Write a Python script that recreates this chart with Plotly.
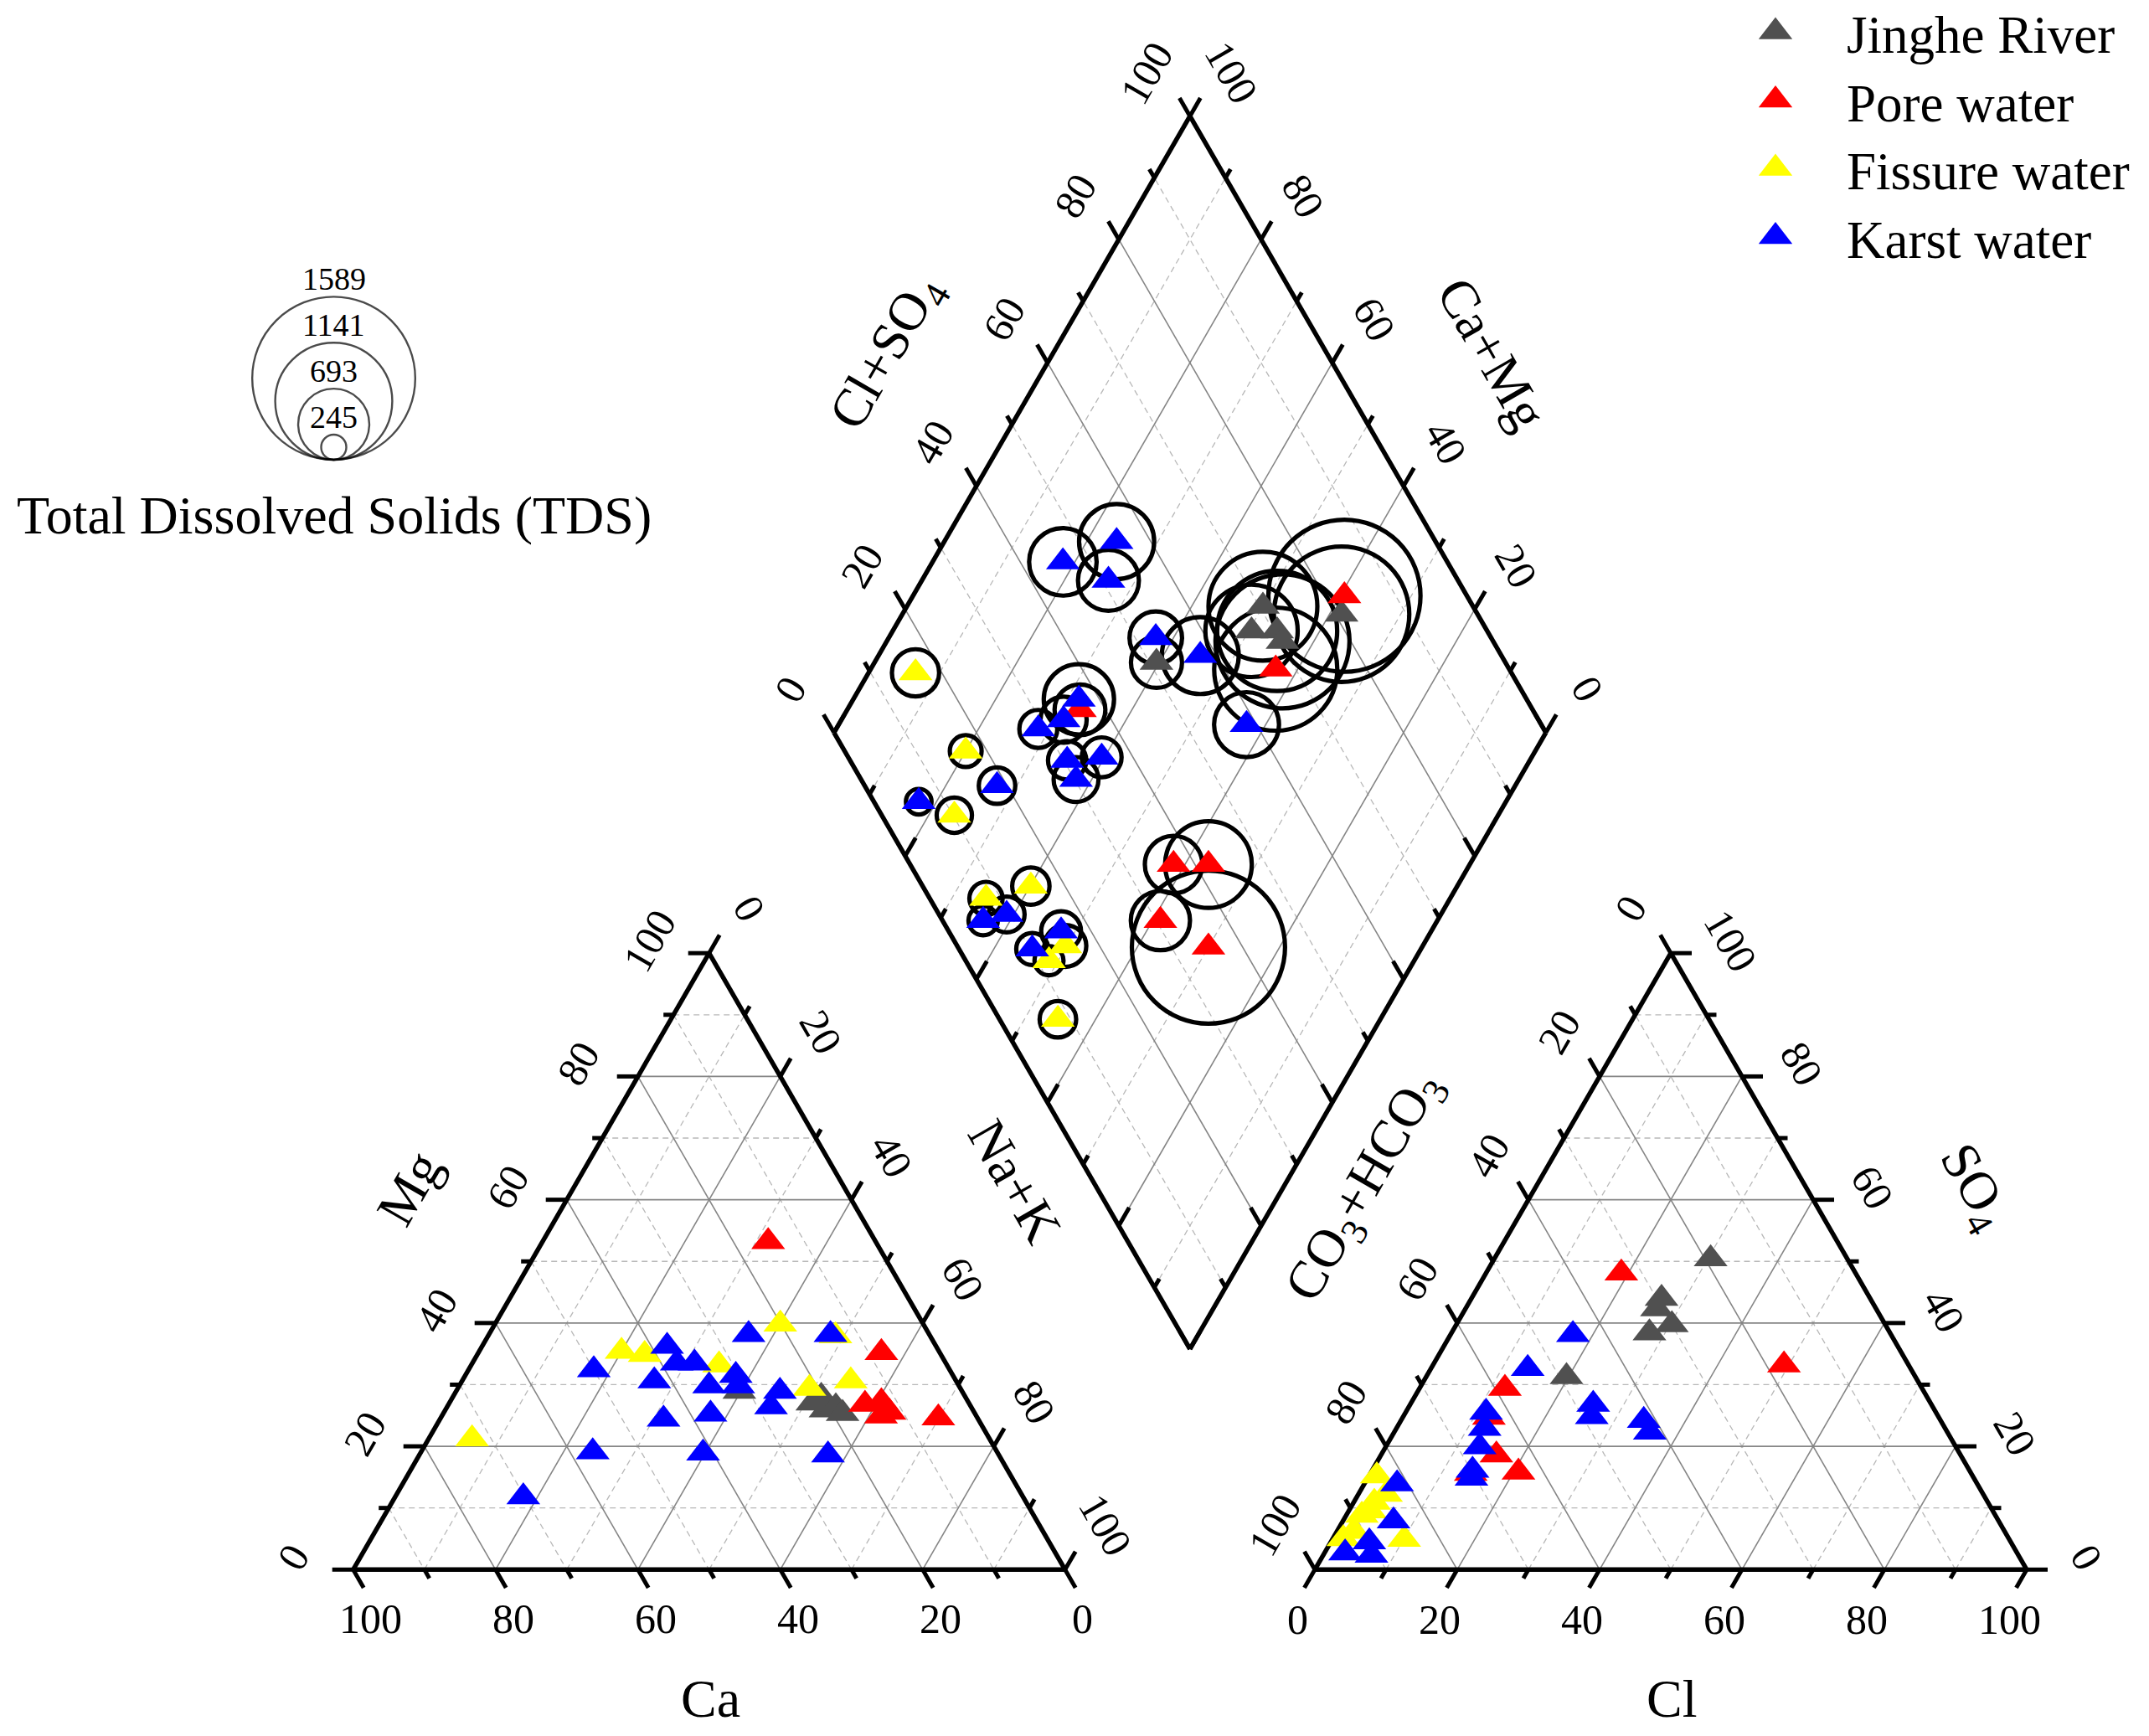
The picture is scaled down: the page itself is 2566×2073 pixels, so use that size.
import numpy as np
import plotly.graph_objects as go

# ---------------- data (meq %) ----------------
groups = ["Jinghe River", "Pore water", "Fissure water", "Karst water"]
group_colors = ["#505050", "#ff0000", "#ffff00", "#0000ff"]

# Cation triangle: Ca and Mg (Na+K = 100 - Ca - Mg)
jinghe_ca = [31.3, 20.2, 20.7, 19.0, 22.0, 18.6]
jinghe_mg = [28.9, 28.1, 25.9, 26.4, 27.0, 25.3]
pore_ca = [15.1, 8.2, 14.7, 12.2, 11.9, 13.4, 5.5]
pore_mg = [53.2, 35.2, 26.8, 27.2, 25.5, 24.9, 24.6]
fissure_ca = [72.7, 44.6, 41.6, 32.0, 20.1, 13.3, 21.2, 14.8]
fissure_mg = [21.2, 35.4, 34.9, 33.2, 39.8, 37.9, 29.4, 30.6]
karst_ca = [50.0, 37.8, 37.8, 35.3, 42.4, 35.1, 30.5, 31.0, 25.4, 25.6, 28.1,
            44.2, 37.2, 13.9, 56.8, 41.4, 24.0, 70.2]
karst_mg = [32.4, 36.2, 33.5, 33.5, 30.6, 29.8, 31.5, 29.8, 38.1, 28.9, 26.4,
            24.4, 25.2, 38.1, 19.1, 18.9, 18.6, 11.8]

# Anion triangle: Cl and SO4 (CO3+HCO3 = 100 - Cl - SO4)
jinghe_cl = [30.4, 26.7, 26.9, 30.3, 27.8, 19.7]
jinghe_so4 = [50.4, 44.0, 42.3, 39.7, 38.4, 31.3]
pore_cl = [19.0, 49.3, 12.0, 12.1, 16.2, 20.7, 14.1]
pore_so4 = [48.1, 33.2, 29.4, 24.7, 18.6, 15.8, 15.6]
fissure_cl = [1.1, 3.9, 2.9, 2.2, 2.4, 10.1, 3.0, 1.5]
fissure_so4 = [15.2, 12.2, 10.9, 8.8, 6.2, 4.9, 9.5, 5.0]
karst_cl = [17.2, 13.6, 25.7, 26.5, 34.1, 35.9, 11.3, 12.4, 13.2, 14.1, 14.6,
            4.6, 7.1, 2.9, 5.4, 6.8]
karst_so4 = [38.1, 32.6, 26.8, 24.8, 24.2, 22.3, 25.5, 22.9, 19.9, 16.1, 14.8,
             13.9, 7.9, 2.7, 4.5, 2.3]

# Diamond: Ca+Mg, Cl+SO4 and TDS (mg/L)
jinghe_camg = [60.4, 50.0, 49.6, 46.0, 44.4, 38.3]
jinghe_clso4 = [51.0, 70.5, 66.9, 70.5, 70.4, 80.9]
jinghe_tds = [498, 1061, 900, 1170, 1306, 1320]
pore_camg = [39.4, 43.1, 67.3, 41.6, 36.7, 38.9, 30.0]
pore_clso4 = [82.8, 67.2, 36.4, 37.0, 41.9, 30.6, 35.2]
pore_tds = [1483, 1200, 495, 560, 845, 577, 1493]
fissure_camg = [93.4, 80.0, 76.4, 59.9, 65.2, 50.2, 51.3, 45.3]
fissure_clso4 = [16.3, 17.0, 10.2, 15.2, 7.9, 15.2, 11.7, 8.2]
fissure_tds = [460, 310, 344, 364, 324, 408, 283, 356]
karst_camg = [81.7, 75.8, 73.8, 62.5, 54.8, 42.7, 68.3, 68.8, 71.6, 65.0, 60.4,
              62.2, 72.8, 82.5, 61.0, 63.8, 52.0, 54.6]
karst_clso4 = [46.0, 55.2, 50.9, 52.9, 57.7, 58.6, 37.1, 33.3, 29.0, 30.5, 35.6,
               30.2, 18.6, 6.3, 9.5, 5.7, 15.8, 10.3]
karst_tds = [658, 732, 594, 512, 750, 633, 685, 450, 370, 373, 388, 437, 356,
             250, 350, 286, 388, 312]

tds_legend_values = [1589, 1141, 693, 245]
tick_values = list(range(0, 101, 10))
label_values = list(range(0, 101, 20))

cat_data = [(jinghe_ca, jinghe_mg), (pore_ca, pore_mg), (fissure_ca, fissure_mg), (karst_ca, karst_mg)]
an_data = [(jinghe_cl, jinghe_so4), (pore_cl, pore_so4), (fissure_cl, fissure_so4), (karst_cl, karst_so4)]
dia_data = [(jinghe_camg, jinghe_clso4, jinghe_tds), (pore_camg, pore_clso4, pore_tds),
            (fissure_camg, fissure_clso4, fissure_tds), (karst_camg, karst_clso4, karst_tds)]

# ---------------- geometry (page pixel frame) ----------------
W, HGT = 2566, 2073
S = 850.0                     # side of triangles / diamond
H = S * np.sqrt(3) / 2
XL, Y0 = 421.7, 1874.3        # left triangle: Ca=100 corner
XR = 2420.0 - S               # right triangle: CO3+HCO3=100 corner
GAP = XR - (XL + S)
BX = XL + S + GAP / 2         # diamond bottom vertex
BY = Y0 - GAP * np.sqrt(3) / 2 - 5
S3 = np.sqrt(3) / 2


def cat_xy(ca, mg):
    ca = np.asarray(ca, float); mg = np.asarray(mg, float)
    nak = 100 - ca - mg
    return XL + (nak + mg / 2) / 100 * S, Y0 - mg / 100 * H


def an_xy(cl, so4):
    cl = np.asarray(cl, float); so4 = np.asarray(so4, float)
    return XR + (cl + so4 / 2) / 100 * S, Y0 - so4 / 100 * H


def dia_xy(camg, clso4):
    c = np.asarray(camg, float) / 100; a = np.asarray(clso4, float) / 100
    return BX + (a - c) * S / 2, BY - (a + c) * H


FONT = "Liberation Serif, Times New Roman, serif"
TICK_FS = 50
TITLE_FS = 64
MSIZE = 35
TDS_K = 0.1225               # circle diameter (px) per mg/L
FRAME_W = 5.5

fig = go.Figure()


def add_segments(segs, color, width, dash=None):
    xs, ys = [], []
    for (x1, y1), (x2, y2) in segs:
        xs += [float(x1), float(x2), None]
        ys += [float(y1), float(y2), None]
    fig.add_trace(go.Scatter(x=xs, y=ys, mode="lines", hoverinfo="skip", showlegend=False,
                             line=dict(color=color, width=width, dash=dash)))


# ---------------- grids ----------------
major_segs, minor_segs = [], []
for v in tick_values[1:-1]:
    target = major_segs if v % 20 == 0 else minor_segs
    # cation triangle
    target.append((cat_xy(100 - v, v), cat_xy(0, v)))
    target.append((cat_xy(v, 100 - v), cat_xy(v, 0)))
    target.append((cat_xy(100 - v, 0), cat_xy(0, 100 - v)))
    # anion triangle
    target.append((an_xy(0, v), an_xy(100 - v, v)))
    target.append((an_xy(v, 0), an_xy(v, 100 - v)))
    target.append((an_xy(100 - v, 0), an_xy(0, 100 - v)))
    # diamond
    target.append((dia_xy(v, 0), dia_xy(v, 100)))
    target.append((dia_xy(0, v), dia_xy(100, v)))
add_segments(minor_segs, "#b8b8b8", 1.3, dash="7px,5px")
add_segments(major_segs, "#858585", 1.6)

# ---------------- frames ----------------
frame = [
    (cat_xy(100, 0), cat_xy(0, 0)), (cat_xy(0, 0), cat_xy(0, 100)), (cat_xy(0, 100), cat_xy(100, 0)),
    (an_xy(0, 0), an_xy(100, 0)), (an_xy(100, 0), an_xy(0, 100)), (an_xy(0, 100), an_xy(0, 0)),
    (dia_xy(0, 0), dia_xy(100, 0)), (dia_xy(100, 0), dia_xy(100, 100)),
    (dia_xy(100, 100), dia_xy(0, 100)), (dia_xy(0, 100), dia_xy(0, 0)),
]
add_segments(frame, "black", FRAME_W)

# ---------------- axes: ticks and labels ----------------
axes = [
    # point function, tick direction, label offset, label angle, labelled?
    (lambda v: cat_xy(v, 0), (0.5, S3), (21, 59), 0, True),            # Ca
    (lambda v: cat_xy(100 - v, v), (-1, 0), (-71, -15), -60, True),      # Mg
    (lambda v: cat_xy(0, 100 - v), (0.5, -S3), (48, -53), 60, True),     # Na+K
    (lambda v: an_xy(v, 0), (-0.5, S3), (-21, 60), 0, True),             # Cl
    (lambda v: an_xy(100 - v, v), (1, 0), (71, -15), 60, True),          # SO4
    (lambda v: an_xy(0, 100 - v), (-0.5, -S3), (-48, -53), -60, True),   # CO3+HCO3
    (lambda v: dia_xy(100, v), (-0.5, -S3), (-52, -52), -60, True),      # Cl+SO4
    (lambda v: dia_xy(v, 100), (0.5, -S3), (50, -52), 60, True),         # Ca+Mg
    (lambda v: dia_xy(v, 0), (0.5, -S3), (0, 0), 0, False),              # diamond lower-left
    (lambda v: dia_xy(0, v), (-0.5, -S3), (0, 0), 0, False),             # diamond lower-right
]
annotations = []
tick_segs = []
for pfun, (dx, dy), (ox, oy), ang, labelled in axes:
    for v in tick_values:
        px, py = pfun(v)
        ln = 25 if v % 20 == 0 else 12
        tick_segs.append(((px, py), (px + dx * ln, py + dy * ln)))
    if labelled:
        for v in label_values:
            px, py = pfun(v)
            annotations.append(dict(x=float(px + ox), y=float(py + oy), text=str(v), textangle=ang,
                                    showarrow=False, xanchor="center", yanchor="middle",
                                    font=dict(family=FONT, size=TICK_FS, color="black")))
add_segments(tick_segs, "black", 5)

# ---------------- axis titles ----------------
titles = [
    ("Ca", 848, 2028, 0), ("Mg", 488, 1419, -60), ("Na+K", 1212, 1410, 60),
    ("Cl", 1996, 2028, 0), ("CO<sub>3</sub>+HCO<sub>3</sub>", 1630, 1418, -60),
    ("SO<sub>4</sub>", 2356, 1418, 60),
    ("Cl+SO<sub>4</sub>", 1060, 422, -60), ("Ca+Mg", 1782, 422, 60),
]
for txt, x, y, ang in titles:
    annotations.append(dict(x=x, y=y, text=txt, textangle=ang, showarrow=False,
                            xanchor="center", yanchor="middle",
                            font=dict(family=FONT, size=TITLE_FS, color="black")))

# ---------------- data marks ----------------
# TDS circles in the diamond (under the triangles)
for (camg, clso4, tds) in dia_data:
    x, y = dia_xy(camg, clso4)
    fig.add_trace(go.Scatter(x=x, y=y, mode="markers", hoverinfo="skip", showlegend=False,
                             marker=dict(symbol="circle", size=[TDS_K * t for t in tds], opacity=1,
                                         color="rgba(0,0,0,0)", line=dict(color="black", width=5.2))))

for name, col, (ca, mg), (cl, so4), (camg, clso4, tds) in zip(groups, group_colors, cat_data, an_data, dia_data):
    xs, ys = [], []
    for fx, fy in (cat_xy(ca, mg), an_xy(cl, so4), dia_xy(camg, clso4)):
        xs += list(fx); ys += list(fy)
    fig.add_trace(go.Scatter(x=xs, y=ys, mode="markers", name=name, showlegend=False,
                             marker=dict(symbol="triangle-up", size=MSIZE, color=col, opacity=1,
                                         line=dict(width=0))))

# ---------------- group legend (top right) ----------------
LEG_X, LEG_TX, LEG_Y, LEG_DY = 2120, 2203, 38, 81.5
leg_y = [LEG_Y + i * LEG_DY for i in range(len(groups))]
fig.add_trace(go.Scatter(x=[LEG_X] * len(groups), y=leg_y, mode="markers", hoverinfo="skip",
                         showlegend=False,
                         marker=dict(symbol="triangle-up", size=MSIZE, color=group_colors, line=dict(width=0))))
for name, y in zip(groups, leg_y):
    annotations.append(dict(x=LEG_TX, y=y + 4, text=name, showarrow=False, xanchor="left", yanchor="middle",
                            font=dict(family=FONT, size=63, color="black")))

# ---------------- TDS size legend ----------------
TDS_CX, TDS_BOTTOM = 398.5, 549
d_leg = [TDS_K * t for t in tds_legend_values]
fig.add_trace(go.Scatter(x=[TDS_CX] * len(d_leg), y=[TDS_BOTTOM - d / 2 for d in d_leg], mode="markers",
                         hoverinfo="skip", showlegend=False,
                         marker=dict(symbol="circle", size=d_leg, color="rgba(0,0,0,0)",
                                     line=dict(color="black", width=2.4))))
for t, d in zip(tds_legend_values, d_leg):
    annotations.append(dict(x=TDS_CX, y=TDS_BOTTOM - d - 21, text=str(t), showarrow=False,
                            xanchor="center", yanchor="middle",
                            font=dict(family=FONT, size=38, color="black")))
annotations.append(dict(x=399, y=615, text="Total Dissolved Solids (TDS)", showarrow=False,
                        xanchor="center", yanchor="middle",
                        font=dict(family=FONT, size=TITLE_FS, color="black")))

fig.update_layout(
    width=W, height=HGT, margin=dict(l=0, r=0, t=0, b=0),
    paper_bgcolor="white", plot_bgcolor="white", showlegend=False,
    xaxis=dict(range=[0, W], visible=False, fixedrange=True),
    yaxis=dict(range=[HGT, 0], visible=False, fixedrange=True),
    annotations=annotations,
)
fig.write_html("out.html", config={"displayModeBar": False},
               post_script="document.body.style.margin='0';document.body.style.overflow='hidden';")
